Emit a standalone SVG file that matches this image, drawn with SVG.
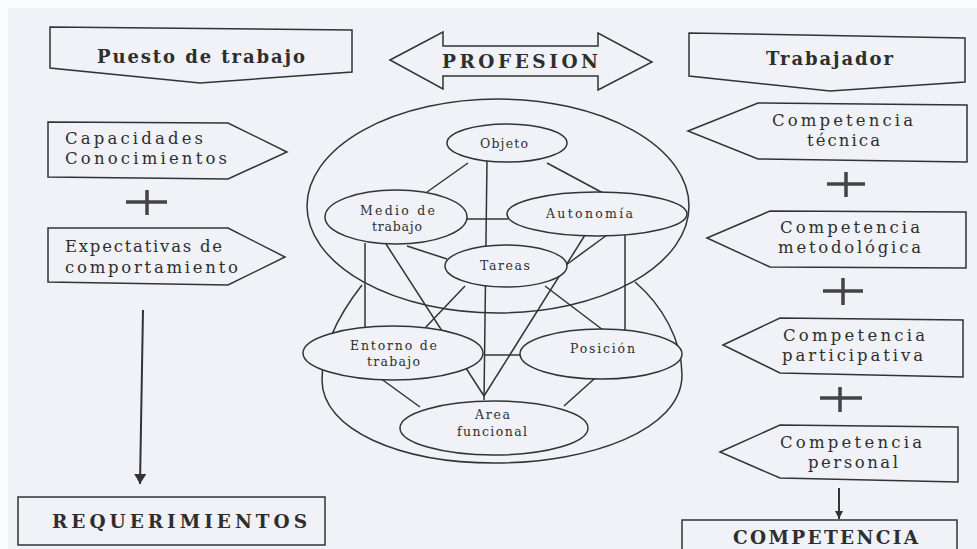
<svg xmlns="http://www.w3.org/2000/svg" width="977" height="549" viewBox="0 0 977 549">
<defs>
<style>
.bg{fill:#f0f2f7}
.sh{fill:#f0f2f7;stroke:#333;stroke-width:1.5;stroke-linejoin:miter}
.big{fill:none;stroke:#333;stroke-width:1.5}
.ln{stroke:#333;stroke-width:1.5;fill:none}
.t{font-family:"DejaVu Serif","Liberation Serif",serif;fill:#2e2e2e}
.b{font-weight:bold}
.n{font-size:12.5px}
.l{font-size:16.5px}
.r{font-size:16.5px}
.h{font-size:18px}
.plus{stroke:#444;stroke-width:3.5;fill:none}
.arr{stroke:#333;stroke-width:2;fill:none}
</style>
<marker id="ah" viewBox="0 0 10 12" refX="10" refY="6" markerWidth="10" markerHeight="12" markerUnits="userSpaceOnUse" orient="auto">
<path d="M0,0 L10,6 L0,12 z" fill="#333"/>
</marker>
<marker id="ah2" viewBox="0 0 10 10" refX="10" refY="5" markerWidth="9" markerHeight="8" markerUnits="userSpaceOnUse" orient="auto">
<path d="M0,0 L10,5 L0,10 z" fill="#333"/>
</marker>
</defs>
<rect x="0" y="0" width="977" height="549" class="bg"/>
<rect x="0" y="0" width="977" height="8" fill="#fbfcfd"/>
<rect x="0" y="0" width="8" height="549" fill="#fbfcfd"/>

<g id="puesto">
<polygon class="sh" points="50,27 352,30 352,72 200,83 50,68"/>
<text class="t b h" x="97" y="63" textLength="208">Puesto de trabajo</text>
</g>
<g id="profesion">
<polygon class="sh" points="390,60 443,32 443,46 598,46 598,33 652,62 598,90 598,76 443,76 443,89"/>
<text class="t b" font-size="18.5" x="442" y="68" textLength="156">PROFESION</text>
</g>
<g id="trabajador">
<polygon class="sh" points="689,33 965,38 965,82 830,91 689,76"/>
<text class="t b h" x="766" y="65" textLength="127">Trabajador</text>
</g>

<g id="capacidades">
<polygon class="sh" points="48,122 228,123 287,152 228,179 48,177"/>
<text class="t l" x="65" y="144" textLength="138">Capacidades</text>
<text class="t l" x="65" y="164" textLength="162">Conocimientos</text>
</g>
<g id="plus-left">
<path class="plus" d="M126,202 H167 M147,190 V215"/>
</g>
<g id="expectativas">
<polygon class="sh" points="48,228 228,228 285,257 228,285 48,282"/>
<text class="t l" x="65" y="252" textLength="157">Expectativas de</text>
<text class="t l" x="65" y="273" textLength="173">comportamiento</text>
</g>
<g id="requerimientos">
<rect class="sh" x="18" y="497" width="307" height="48"/>
<text class="t b" font-size="18.5" x="52" y="528" textLength="255">REQUERIMIENTOS</text>
</g>

<g id="comp-tecnica">
<polygon class="sh" points="688,131 758,103 967,105 967,162 758,159"/>
<text class="t r" x="772" y="126" textLength="141">Competencia</text>
<text class="t r" x="807" y="146" textLength="73">técnica</text>
</g>
<g id="plus-r1"><path class="plus" d="M827,184 H865 M846,172 V197"/></g>
<g id="comp-metodologica">
<polygon class="sh" points="707,238 770,211 966,212 966,268 770,267"/>
<text class="t r" x="780" y="233" textLength="140">Competencia</text>
<text class="t r" x="778" y="253" textLength="143">metodológica</text>
</g>
<g id="plus-r2"><path class="plus" d="M823,291 H863 M843,278 V305"/></g>
<g id="comp-participativa">
<polygon class="sh" points="723,345 780,318 963,320 963,377 780,373"/>
<text class="t r" x="783" y="341" textLength="142">Competencia</text>
<text class="t r" x="782" y="361" textLength="141">participativa</text>
</g>
<g id="plus-r3"><path class="plus" d="M820,398 H862 M840,387 V412"/></g>
<g id="comp-personal">
<polygon class="sh" points="720,452 780,425 958,427 958,482 780,478"/>
<text class="t r" x="780" y="448" textLength="142">Competencia</text>
<text class="t r" x="808" y="468" textLength="90">personal</text>
</g>
<g id="competencia">
<rect class="sh" x="682" y="520" width="275" height="45"/>
<text class="t b" font-size="18.5" x="733" y="544" textLength="185">COMPETENCIA</text>
</g>

<g id="profesion-sphere">
<path class="big" d="M362,285 C340,313 322,345 322,380 C322,430 400,463 495,463 C590,463 682,430 682,375 C682,340 662,305 635,282"/>
<ellipse class="big" cx="498" cy="206" rx="191" ry="107"/>
</g>

<g id="connectors">
<line class="ln" x1="468" y1="163" x2="427" y2="192"/>
<line class="ln" x1="547" y1="163" x2="603" y2="193"/>
<line class="ln" x1="487" y1="160" x2="484" y2="400"/>
<line class="ln" x1="466" y1="219" x2="508" y2="219"/>
<line class="ln" x1="407" y1="246" x2="447" y2="259"/>
<line class="ln" x1="365" y1="243" x2="365" y2="328"/>
<line class="ln" x1="386" y1="244" x2="484" y2="396"/>
<line class="ln" x1="585" y1="235" x2="484" y2="396"/>
<line class="ln" x1="607" y1="235" x2="566" y2="265"/>
<line class="ln" x1="625" y1="235" x2="625" y2="330"/>
<line class="ln" x1="545" y1="286" x2="603" y2="330"/>
<line class="ln" x1="465" y1="286" x2="425" y2="328"/>
<line class="ln" x1="484" y1="355" x2="521" y2="355"/>
<line class="ln" x1="603" y1="371" x2="564" y2="406"/>
<line class="ln" x1="380" y1="378" x2="420" y2="407"/>
<line class="arr" x1="143" y1="310" x2="140" y2="484" marker-end="url(#ah)"/>
<line class="arr" x1="839" y1="488" x2="839" y2="519" marker-end="url(#ah2)"/>
</g>

<g id="objeto">
<ellipse class="sh" cx="507" cy="143" rx="60" ry="19"/>
<text class="t n" x="480" y="148" textLength="48">Objeto</text>
</g>
<g id="medio">
<ellipse class="sh" cx="396" cy="217" rx="71" ry="27"/>
<text class="t n" x="360" y="215" textLength="75">Medio de</text>
<text class="t n" x="372" y="231" textLength="50">trabajo</text>
</g>
<g id="autonomia">
<ellipse class="sh" cx="597" cy="214" rx="90" ry="22"/>
<text class="t n" x="546" y="218" textLength="87">Autonomía</text>
</g>
<g id="tareas">
<ellipse class="sh" cx="506" cy="266" rx="61" ry="21"/>
<text class="t n" x="480" y="270" textLength="50">Tareas</text>
</g>
<g id="entorno">
<ellipse class="sh" cx="393" cy="353" rx="90" ry="27"/>
<text class="t n" x="350" y="350" textLength="87">Entorno de</text>
<text class="t n" x="367" y="366" textLength="53">trabajo</text>
</g>
<g id="posicion">
<ellipse class="sh" cx="601" cy="354" rx="81" ry="25"/>
<text class="t n" x="570" y="353" textLength="65">Posición</text>
</g>
<g id="area">
<ellipse class="sh" cx="494" cy="428" rx="94" ry="27"/>
<text class="t n" x="475" y="419" textLength="35">Area</text>
<text class="t n" x="457" y="436" textLength="70">funcional</text>
</g>
</svg>
